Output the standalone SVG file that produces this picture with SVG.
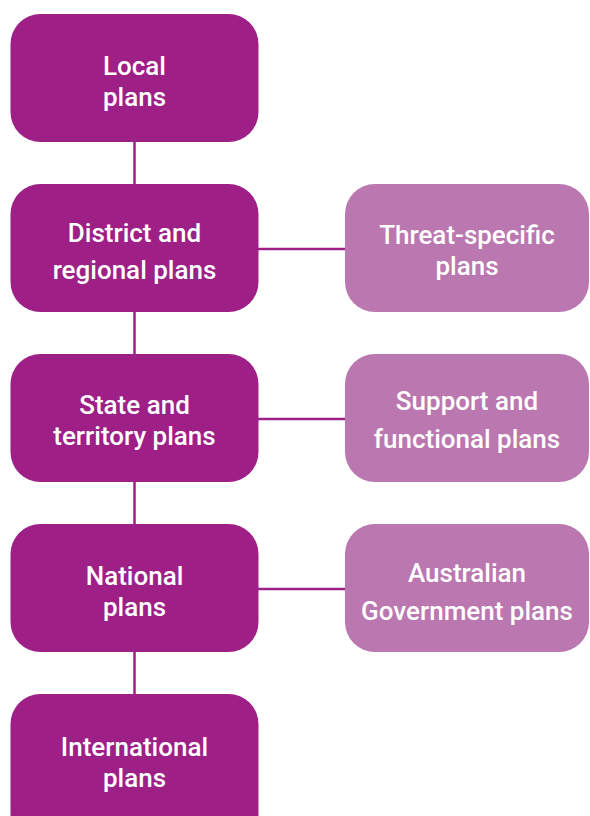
<svg xmlns="http://www.w3.org/2000/svg" width="590" height="816" viewBox="0 0 590 816">
<style>
.dark{fill:#9E2087}
.light{fill:#BB77B0}
.t{font-family:Roboto,"Liberation Sans",sans-serif;font-weight:500;font-size:26px;fill:#FFFFFF;text-anchor:middle}
.c{stroke:#9E2087;stroke-width:2.5;fill:none}
</style>
<rect width="590" height="816" fill="#FFFFFF"/>
<g id="connectors">
<line class="c" x1="134.5" y1="142" x2="134.5" y2="184"/>
<line class="c" x1="134.5" y1="312" x2="134.5" y2="354"/>
<line class="c" x1="134.5" y1="482" x2="134.5" y2="524"/>
<line class="c" x1="134.5" y1="652" x2="134.5" y2="694"/>
<line class="c" x1="258" y1="249" x2="345" y2="249"/>
<line class="c" x1="258" y1="419" x2="345" y2="419"/>
<line class="c" x1="258" y1="589" x2="345" y2="589"/>
</g>
<g id="local">
<rect class="dark" x="10.5" y="14" width="248" height="128" rx="30"/>
<text class="t" x="134.5" y="75">Local</text>
<text class="t" x="134.5" y="106">plans</text>
</g>
<g id="district">
<rect class="dark" x="10.5" y="184" width="248" height="128" rx="30"/>
<text class="t" x="134.5" y="242">District and</text>
<text class="t" x="134.5" y="279">regional plans</text>
</g>
<g id="state">
<rect class="dark" x="10.5" y="354" width="248" height="128" rx="30"/>
<text class="t" x="134.5" y="414">State and</text>
<text class="t" x="134.5" y="445">territory plans</text>
</g>
<g id="national">
<rect class="dark" x="10.5" y="524" width="248" height="128" rx="30"/>
<text class="t" x="134.5" y="585">National</text>
<text class="t" x="134.5" y="616">plans</text>
</g>
<g id="international">
<rect class="dark" x="10.5" y="694" width="248" height="150" rx="30"/>
<text class="t" x="134.5" y="756">International</text>
<text class="t" x="134.5" y="787">plans</text>
</g>
<g id="threat">
<rect class="light" x="345" y="184" width="244" height="128" rx="30"/>
<text class="t" x="467" y="244">Threat-specific</text>
<text class="t" x="467" y="275">plans</text>
</g>
<g id="support">
<rect class="light" x="345" y="354" width="244" height="128" rx="30"/>
<text class="t" x="467" y="410">Support and</text>
<text class="t" x="467" y="448">functional plans</text>
</g>
<g id="australian">
<rect class="light" x="345" y="524" width="244" height="128" rx="30"/>
<text class="t" x="467" y="582">Australian</text>
<text class="t" x="467" y="620">Government plans</text>
</g>
</svg>
